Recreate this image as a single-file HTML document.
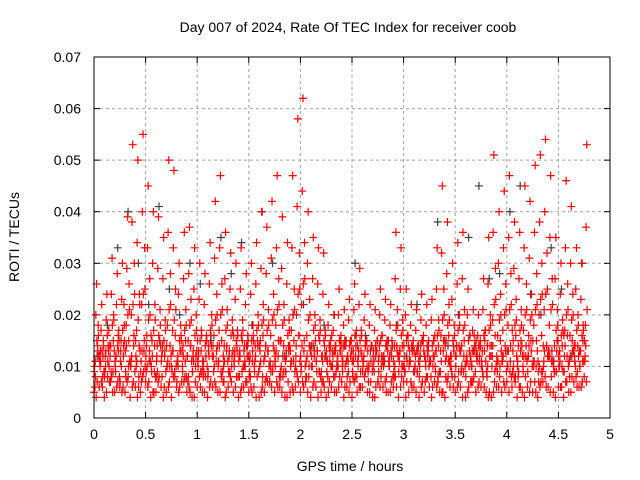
<!DOCTYPE html>
<html><head><meta charset="utf-8"><style>
body{margin:0;background:#fff;}
svg{display:block;font-family:"Liberation Sans",sans-serif;}
</style></head><body>
<svg id="chart" width="640" height="480">
<text x="348" y="32" text-anchor="middle" font-size="14">Day 007 of 2024, Rate Of TEC Index for receiver coob</text>
<text x="0" y="0" transform="translate(19,237) rotate(-90)" text-anchor="middle" font-size="14">ROTI / TECUs</text>
<text x="350" y="471" text-anchor="middle" font-size="14">GPS time / hours</text>
<g id="grid"></g>
<g id="ticks"></g>
<g id="gray"></g>
<g id="red"></g>
<rect x="94" y="57" width="516" height="361" fill="none" stroke="#000" stroke-width="1"/>
</svg>
<script>
const xTicks=[0,0.5,1,1.5,2,2.5,3,3.5,4,4.5,5];
const xTickLabels=["0","0.5","1","1.5","2","2.5","3","3.5","4","4.5","5"];
const yTicks=[0,0.01,0.02,0.03,0.04,0.05,0.06,0.07];
const yTickLabels=["0","0.01","0.02","0.03","0.04","0.05","0.06","0.07"];
const timeStep=0.05;
const rowOffsets=[0,0.031,0.006,0.037,0.012,0.043,0.018,0.025,0.003,0.034,0.009,0.040,0.015,0.046,0.021,0.028];
// values in 1e-3 TECU/min
const rowEnvelope=[26,22,24,31,28,30,39,53,50,55,45,40,39,35,50,48,30,36,37,33,30,28,34,42,47,36,32,30,33,28,30,34,40,37,42,47,39,34,47,58,62,40,35,33,32,22,20,25,21,23,26,29,24,22,21,25,23,22,36,33,25,22,21,24,22,23,33,45,38,30,34,36,25,21,20,27,35,51,40,44,47,38,36,45,42,49,51,54,47,35,30,46,41,33,30,53];
const rowSecondary=[20,17,19,24,22,23,29,38,34,40,33,30,29,27,36,33,24,27,28,25,23,22,26,31,33,27,25,23,25,22,24,26,29,28,31,33,29,26,33,41,44,30,27,26,24,18,17,20,18,19,21,22,19,18,17,20,19,18,27,25,20,18,17,19,18,19,25,32,28,23,26,27,20,17,16,21,26,36,30,33,35,29,27,33,31,36,38,40,35,27,24,33,30,25,23,37];
const rowUpper=[16,14,17,19,15,18,21,24,22,25,20,19,18,17,22,21,16,18,19,17,16,15,18,20,21,18,17,16,17,15,16,18,19,18,20,22,19,17,21,25,27,20,18,17,16,15,14,16,15,15,17,16,15,14,15,16,15,14,18,17,16,15,14,16,15,15,17,20,19,16,18,18,16,14,15,17,18,23,20,21,22,19,18,21,20,22,24,25,22,18,17,21,20,18,17,22];
const rowMidHigh=[13,12,14,15,13,14,15,16,14,15,13,14,15,13,14,16,13,15,14,12,13,15,14,13,15,14,12,13,15,14,13,14,16,13,14,15,14,13,15,16,15,14,13,15,12,13,14,13,15,12,14,13,15,14,13,12,14,15,13,14,16,13,14,15,13,12,14,15,16,13,14,15,13,14,12,15,14,16,15,13,14,16,15,14,13,15,16,14,13,15,14,16,13,14,15,17];
const rowMid=[10,11,9,12,10,11,9,10,12,11,9,10,11,12,10,9,11,10,12,9,11,10,9,12,11,10,9,11,12,10,11,9,10,12,11,10,9,11,10,12,9,11,10,11,12,9,10,11,10,12,9,11,10,9,12,11,10,11,9,12,10,11,9,10,12,11,10,9,11,12,10,9,11,10,12,11,9,10,11,12,10,9,11,10,12,11,9,10,12,11,10,9,11,12,10,11];
const rowLow=[7,6,8,5,7,6,8,7,6,9,7,5,8,6,7,9,6,8,5,7,6,8,7,6,9,5,7,8,6,7,5,8,6,7,9,6,8,7,5,7,6,8,7,9,6,7,5,8,6,7,8,6,9,7,6,8,5,7,6,8,7,6,9,7,8,6,7,5,8,6,7,9,6,8,7,6,5,7,8,6,9,7,6,8,7,5,7,6,8,9,6,7,8,6,7,9];
const rowVeryLow=[5,6,4,7,5,6,5,4,6,5,7,4,5,6,5,4,6,7,5,4,6,5,4,6,5,7,6,5,4,6,5,6,4,5,7,5,6,4,5,6,5,7,4,6,5,4,6,5,7,6,4,5,6,5,4,7,6,5,6,4,7,5,6,4,5,6,7,5,4,6,5,6,4,7,5,6,5,4,6,5,7,6,4,5,6,5,4,7,6,5,6,4,5,7,6,8];
const rowExtra=[11,13,10,14,12,15,18,20,17,22,16,15,14,13,18,17,12,14,15,13,12,11,14,16,17,14,13,12,13,11,12,14,15,14,16,18,15,13,17,20,22,16,14,13,12,11,10,12,11,11,13,12,11,10,11,12,11,10,14,13,12,11,10,12,11,11,13,16,15,12,14,14,12,10,11,13,14,19,16,17,18,15,14,17,16,18,20,21,18,14,13,17,16,14,13,18];
const rowBandA=[9,12,8,14,11,7,13,10,15,9,12,16,8,11,14,10,7,13,12,9,15,11,8,14,10,12,9,16,11,13,8,10,14,12,7,11,15,9,13,10,12,8,14,11,9,13,16,10,12,8,11,14,9,13,10,7,12,15,11,9,14,10,13,8,12,11,16,9,14,10,12,13,8,11,15,10,9,14,12,11,13,17,10,12,9,15,11,14,13,10,12,16,11,14,13,15];
const rowBandB=[14,8,11,9,16,12,10,14,8,13,11,9,15,12,10,8,13,11,14,10,9,12,16,11,8,13,10,14,9,12,11,15,8,13,10,12,9,14,11,16,13,10,12,9,14,11,8,13,10,15,12,9,14,11,13,10,8,12,14,10,11,13,9,15,12,10,8,13,11,14,9,12,10,16,11,13,12,9,10,14,11,8,13,12,15,10,9,14,11,13,10,12,15,9,11,14];
const rowBandC=[6,10,12,7,9,13,8,11,10,7,14,9,12,8,10,13,11,9,7,12,10,8,13,9,11,7,12,10,8,14,9,11,13,7,10,12,8,9,11,14,10,8,12,9,7,11,13,10,9,12,8,10,11,7,13,9,12,10,8,11,9,13,10,12,7,11,9,13,8,10,12,9,11,7,13,10,8,12,9,11,10,13,8,9,12,10,7,11,13,9,10,12,8,11,10,12];
const rowBandD=[18,15,13,20,17,22,26,30,24,33,27,22,21,19,28,25,18,21,23,20,17,16,20,24,26,21,19,17,19,16,18,20,22,21,24,27,22,19,25,32,34,23,20,19,17,14,13,15,14,15,16,17,15,14,13,16,15,14,21,19,16,14,13,15,14,15,19,25,22,18,20,21,16,13,14,17,20,29,24,26,28,23,21,26,24,28,30,32,27,21,19,26,24,20,18,28];
const rowBandE=[8,11,13,9,12,10,14,12,11,13,10,12,9,14,11,13,10,12,8,11,13,9,12,10,14,11,9,13,12,10,8,12,11,14,9,13,10,12,11,9,14,12,10,13,11,8,12,10,14,9,11,13,12,10,9,14,11,12,10,13,9,11,12,14,10,8,13,11,12,9,14,10,11,13,12,9,10,14,11,12,13,10,9,12,14,11,10,13,12,9,11,14,12,10,13,14];
const rowBandF=[12,9,10,13,8,15,11,9,13,10,11,8,14,9,12,10,15,8,11,13,9,10,12,14,9,11,13,8,10,12,15,9,11,10,13,8,12,14,9,11,10,13,15,8,12,10,9,14,11,13,8,12,10,9,15,11,13,8,12,10,14,9,11,13,10,12,9,15,11,8,13,10,12,9,14,11,12,10,13,9,8,12,14,11,10,13,9,12,11,15,9,10,13,12,11,15];
const rowBandG=[4,7,5,8,6,5,7,6,4,8,6,5,7,4,6,8,5,7,6,4,8,5,6,7,5,4,8,6,5,7,6,4,5,8,6,7,5,4,6,8,7,5,6,4,7,5,8,6,4,5,7,6,8,5,4,6,7,5,8,6,4,7,5,6,8,4,6,5,7,8,6,4,5,7,6,8,4,5,6,7,5,8,6,4,5,7,6,8,5,4,6,7,5,8,6,7];
const rowBandH=[15,13,16,18,14,17,20,22,19,24,19,17,16,15,21,19,15,17,18,16,15,14,17,19,20,17,16,15,16,14,15,17,18,17,19,21,18,16,20,24,26,19,17,16,15,14,13,15,14,14,16,15,14,13,14,15,14,13,17,16,15,14,13,15,14,14,16,19,18,15,17,17,15,13,14,16,17,22,19,20,21,18,17,20,19,21,23,24,21,17,16,20,19,17,16,21];
const grayStep=0.1;
const grayValues=[12,18,33,40,30,22,41,25,20,30,26,15,35,28,34,18,40,30,12,20,22,14,18,20,15,30,16,12,14,18,12,22,13,38,14,20,35,45,27,28,40,45,24,20,33,25,12,30];
const redRows=[rowVeryLow,rowLow,rowMid,rowMidHigh,rowExtra,rowUpper,rowSecondary,rowEnvelope,rowBandA,rowBandB,rowBandC,rowBandD,rowBandE,rowBandF,rowBandG,rowBandH];

const X0=94,X1=610,Y0=418,Y1=57;
const xs=t=>X0+(t/5)*(X1-X0);
const ys=v=>Y0-(v/0.07)*(Y0-Y1);
const NS="http://www.w3.org/2000/svg";
function mk(tag,attrs,parent){const e=document.createElementNS(NS,tag);for(const k in attrs)e.setAttribute(k,attrs[k]);parent.appendChild(e);return e;}
const grid=document.getElementById('grid'),ticks=document.getElementById('ticks');
xTicks.forEach((t,i)=>{const x=xs(t);
 if(i>0&&i<xTicks.length-1){const g=mk('line',{x1:x,x2:x,y1:Y1,y2:Y0,stroke:'#a0a0a0','stroke-dasharray':'3,3'},grid);}
 mk('line',{x1:x,x2:x,y1:Y0,y2:Y0-6,stroke:'#000'},ticks);mk('line',{x1:x,x2:x,y1:Y1,y2:Y1+6,stroke:'#000'},ticks);
 const l=mk('text',{x:x,y:Y0+21,'text-anchor':'middle','font-size':14},ticks);l.textContent=xTickLabels[i];
 
 
});
yTicks.forEach((v,i)=>{const y=ys(v);
 if(i>0&&i<yTicks.length-1){const g=mk('line',{x1:X0,x2:X1,y1:y,y2:y,stroke:'#a0a0a0','stroke-dasharray':'3,3'},grid);}
 mk('line',{x1:X0,x2:X0+6,y1:y,y2:y,stroke:'#000'},ticks);mk('line',{x1:X1,x2:X1-6,y1:y,y2:y,stroke:'#000'},ticks);
 const l=mk('text',{x:X0-13,y:y+5,'text-anchor':'end','font-size':14},ticks);l.textContent=yTickLabels[i];
 
 
});
function plus(parent,t,v,color){const x=xs(t),y=ys(v/1000);
 const p=mk('path',{d:`M${x-4},${y}H${x+4}M${x},${y-4}V${y+4}`,stroke:color,'stroke-width':1.2,fill:'none'},parent);
 
 
}
const gray=document.getElementById('gray'),red=document.getElementById('red');
grayValues.forEach((v,i)=>plus(gray,i*grayStep+0.03,v,'#404040'));
redRows.forEach((row,k)=>row.forEach((v,i)=>{const t=i*timeStep+rowOffsets[k];if(t<=4.78)plus(red,t,v,'#ff0000');}));
</script>
</body></html>
